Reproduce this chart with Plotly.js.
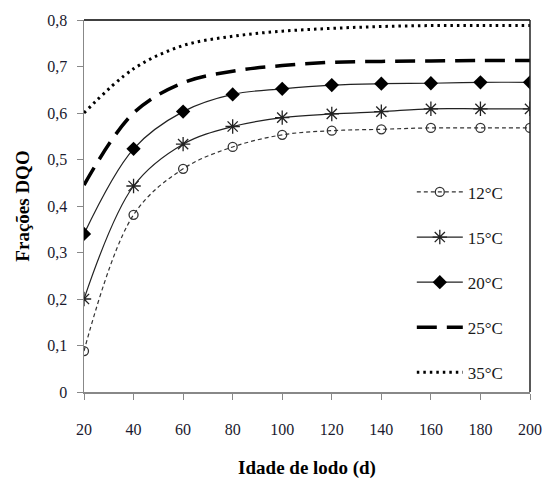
<!DOCTYPE html>
<html>
<head>
<meta charset="utf-8">
<script src="https://cdn.plot.ly/plotly-3.0.1.min.js"></script>
<style>html,body{margin:0;padding:0;background:#fff;}#chart{width:547px;height:490px;}</style>
</head>
<body>
<div id="chart"></div>
<script>
const idade = [20, 40, 60, 80, 100, 120, 140, 160, 180, 200];
const t12 = [0.088, 0.381, 0.480, 0.527, 0.553, 0.562, 0.565, 0.568, 0.568, 0.568];
const t15 = [0.200, 0.443, 0.533, 0.571, 0.590, 0.598, 0.603, 0.609, 0.609, 0.609];
const t20 = [0.340, 0.523, 0.603, 0.640, 0.652, 0.660, 0.663, 0.664, 0.666, 0.666];
const t25 = [0.445, 0.600, 0.665, 0.690, 0.702, 0.709, 0.711, 0.712, 0.713, 0.713];
const t35 = [0.600, 0.695, 0.745, 0.765, 0.776, 0.782, 0.786, 0.788, 0.788, 0.788];
const names = ['12°C', '15°C', '20°C', '25°C', '35°C'];
const xTicks = [20, 40, 60, 80, 100, 120, 140, 160, 180, 200];
const yTicks = [0, 0.1, 0.2, 0.3, 0.4, 0.5, 0.6, 0.7, 0.8];

const serif = 'Liberation Serif, Times New Roman, serif';

const traces = [
  {x: idade, y: t12, name: names[0], legendgroup: 'a', mode: 'lines+markers',
   line: {color: '#333', width: 1.2, dash: '4px,3px', shape: 'spline'},
   marker: {symbol: 'circle-open', size: 9, color: '#333', line: {width: 1.3}}},
  {x: idade, y: t15, name: names[1], legendgroup: 'b', mode: 'lines+markers',
   line: {color: '#222', width: 1.2, shape: 'spline'},
   marker: {symbol: 'asterisk-open', size: 12, color: '#222', line: {width: 1.3, color: '#222'}}},
  {x: idade, y: t20, name: names[2], legendgroup: 'c', mode: 'lines+markers',
   line: {color: '#222', width: 1.2, shape: 'spline'},
   marker: {symbol: 'diamond', size: 11, color: '#000'}},
  {x: idade, y: t25, name: names[3], legendgroup: 'd', mode: 'lines',
   line: {color: '#000', width: 3.5, dash: '20px,10px', shape: 'spline'}},
  {x: idade, y: t35, name: names[4], legendgroup: 'e', mode: 'lines',
   line: {color: '#000', width: 3, dash: '2.5px,4px', shape: 'spline'}}
];

const tickFont = {family: serif, size: 16, color: '#1a1a2e'};

const layout = {
  width: 547, height: 490,
  separators: ',.',
  margin: {l: 84, r: 17, t: 20, b: 98},
  paper_bgcolor: '#fff', plot_bgcolor: '#fff',
  showlegend: true,
  legend: {
    x: 0.735, y: 0.585, xanchor: 'left', yanchor: 'top',
    bgcolor: 'rgba(0,0,0,0)', tracegroupgap: 20, itemwidth: 46,
    font: {family: serif, size: 17, color: '#1a1a1a'}
  },
  xaxis: {
    range: [20, 200], tickvals: xTicks, ticks: 'outside', ticklen: 6, tickcolor: '#888',
    showline: true, linecolor: '#888', linewidth: 1.5, showgrid: false, zeroline: false,
    tickfont: tickFont, ticklabelstandoff: 16,
    title: {text: '<b>Idade de lodo (d)</b>', standoff: 24,
            font: {family: serif, size: 19, color: '#000'}}
  },
  yaxis: {
    range: [0, 0.8], tickvals: yTicks, ticks: 'outside', ticklen: 6, tickcolor: '#888',
    showline: true, linecolor: '#888', linewidth: 1.5, showgrid: false, zeroline: false,
    tickfont: tickFont, ticklabelstandoff: 6,
    title: {text: '<b>Frações DQO</b>', standoff: 12,
            font: {family: serif, size: 19, color: '#000'}}
  },
  shapes: [
    {type: 'line', xref: 'paper', yref: 'paper', x0: 0, x1: 1, y0: 1, y1: 1, line: {color: '#000', width: 1.5}},
    {type: 'line', xref: 'paper', yref: 'paper', x0: 1, x1: 1, y0: 0, y1: 1, line: {color: '#222', width: 1.5}}
  ]
};
layout.yaxis.ticktext = yTicks.map(v => v === 0 ? '0' : v.toFixed(1).replace('.', ','));

Plotly.newPlot('chart', traces, layout, {displayModeBar: false, staticPlot: true});
</script>
</body>
</html>
